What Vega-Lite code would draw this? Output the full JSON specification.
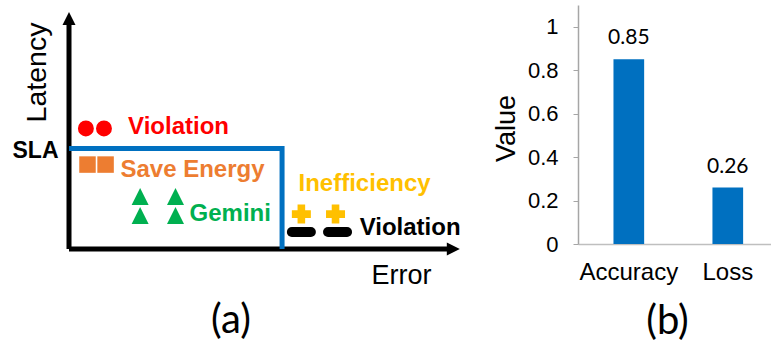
{
  "$schema": "https://vega.github.io/schema/vega-lite/v6.json",
  "background": "white",
  "padding": {"left": 12, "top": 5, "right": 0, "bottom": 0},
  "spacing": 21,
  "config": {
    "view": {"stroke": null},
    "font": "Liberation Sans",
    "axis": {"labelColor": "#000000", "titleColor": "#000000", "grid": false}
  },
  "hconcat": [
    {
      "width": 402,
      "height": 244,
      "title": {"text": "(a)", "orient": "bottom", "anchor": "middle", "font": "Lato", "fontSize": 40, "fontWeight": "normal", "color": "#000000", "offset": 13, "dx": -39},
      "layer": [
        {
          "data": {"values": [
            {"axis": "Error", "x": 0, "y": 0, "x_end": 95.6, "y_end": 0},
            {"axis": "Latency", "x": 0, "y": 0, "x_end": 0, "y_end": 94.5}
          ]},
          "mark": {"type": "rule", "color": "#000000", "strokeWidth": 5},
          "encoding": {
            "x": {"field": "x", "type": "quantitative", "scale": {"domain": [0, 100], "nice": false, "zero": false},
              "axis": {"values": [], "labels": false, "domain": false, "ticks": false, "tickSize": 0, "title": "Error", "titleFont": "Liberation Sans", "titleFontSize": 27, "titleFontWeight": "normal", "titleX": 332, "titleY": 26, "titleAlign": "center", "titleBaseline": "middle"}},
            "y": {"field": "y", "type": "quantitative", "scale": {"domain": [0, 100], "nice": false, "zero": false},
              "axis": {"values": [41.2], "labelExpr": "'SLA'", "labelFont": "Liberation Sans", "labelFontSize": 23, "labelFontWeight": "bold", "labelPadding": 11, "labelOffset": 2, "domain": false, "ticks": false, "tickSize": 0, "title": "Latency", "titleFont": "Liberation Sans", "titleFontSize": 28.5, "titleFontWeight": "normal", "titleX": -33, "titleY": 67, "titleAngle": 270, "titleAlign": "center", "titleBaseline": "middle"}},
            "x2": {"field": "x_end"},
            "y2": {"field": "y_end"}
          }
        },
        {
          "data": {"values": [{"axis": "Error", "x": 95.6, "y": 0}]},
          "mark": {"type": "point", "shape": "M-1,-1L1,0L-1,1Z", "filled": true, "opacity": 1, "size": 169, "color": "#000000"},
          "encoding": {"x": {"field": "x", "type": "quantitative"}, "y": {"field": "y", "type": "quantitative"}}
        },
        {
          "data": {"values": [{"axis": "Latency", "x": 0, "y": 94.5}]},
          "mark": {"type": "point", "shape": "M-1,1L0,-1L1,1Z", "filled": true, "opacity": 1, "size": 169, "color": "#000000"},
          "encoding": {"x": {"field": "x", "type": "quantitative"}, "y": {"field": "y", "type": "quantitative"}}
        },
        {
          "data": {"values": [
            {"step": 1, "x": 0, "y": 41.2},
            {"step": 2, "x": 53.0, "y": 41.2},
            {"step": 3, "x": 53.0, "y": 0}
          ]},
          "mark": {"type": "line", "color": "#0070C0", "strokeWidth": 5, "strokeJoin": "miter"},
          "encoding": {"x": {"field": "x", "type": "quantitative"}, "y": {"field": "y", "type": "quantitative"}, "order": {"field": "step"}}
        },
        {
          "data": {"values": [
            {"outcome": "Latency violation", "x": 4.2, "y": 49.4},
            {"outcome": "Latency violation", "x": 8.7, "y": 49.4}
          ]},
          "mark": {"type": "point", "shape": "circle", "filled": true, "opacity": 1, "size": 254},
          "encoding": {"x": {"field": "x", "type": "quantitative"}, "y": {"field": "y", "type": "quantitative"},
            "color": {"field": "outcome", "type": "nominal", "legend": null, "scale": {"domain": ["Latency violation", "Save energy", "Gemini", "Inefficiency", "Error violation"], "range": ["#FF0000", "#ED7D31", "#00B050", "#FFC000", "#000000"]}}}
        },
        {
          "data": {"values": [
            {"outcome": "Save energy", "x": 4.6, "y": 34.6},
            {"outcome": "Save energy", "x": 9.1, "y": 34.6}
          ]},
          "mark": {"type": "point", "shape": "square", "filled": true, "opacity": 1, "size": 272},
          "encoding": {"x": {"field": "x", "type": "quantitative"}, "y": {"field": "y", "type": "quantitative"},
            "color": {"field": "outcome", "type": "nominal", "legend": null}}
        },
        {
          "data": {"values": [
            {"outcome": "Gemini", "x": 17.7, "y": 21.5},
            {"outcome": "Gemini", "x": 17.7, "y": 13.7},
            {"outcome": "Gemini", "x": 26.5, "y": 21.5},
            {"outcome": "Gemini", "x": 26.5, "y": 13.7}
          ]},
          "mark": {"type": "point", "shape": "M0,-1L1,1L-1,1Z", "filled": true, "opacity": 1, "size": 289},
          "encoding": {"x": {"field": "x", "type": "quantitative"}, "y": {"field": "y", "type": "quantitative"},
            "color": {"field": "outcome", "type": "nominal", "legend": null}}
        },
        {
          "data": {"values": [
            {"outcome": "Inefficiency", "x": 57.8, "y": 14.3},
            {"outcome": "Inefficiency", "x": 66.3, "y": 14.3}
          ]},
          "mark": {"type": "point", "shape": "cross", "filled": true, "opacity": 1, "size": 361},
          "encoding": {"x": {"field": "x", "type": "quantitative"}, "y": {"field": "y", "type": "quantitative"},
            "color": {"field": "outcome", "type": "nominal", "legend": null}}
        },
        {
          "data": {"values": [
            {"outcome": "Error violation", "x": 57.8, "y": 7.0},
            {"outcome": "Error violation", "x": 66.8, "y": 7.0}
          ]},
          "mark": {"type": "point", "shape": "stroke", "filled": false, "opacity": 1, "size": 361, "strokeWidth": 10, "strokeCap": "round"},
          "encoding": {"x": {"field": "x", "type": "quantitative"}, "y": {"field": "y", "type": "quantitative"},
            "color": {"field": "outcome", "type": "nominal", "legend": null}}
        },
        {
          "data": {"values": [
            {"outcome": "Latency violation", "label": "Violation", "x": 14.7, "y": 50.2},
            {"outcome": "Save energy", "label": "Save Energy", "x": 12.8, "y": 32.3},
            {"outcome": "Gemini", "label": "Gemini", "x": 30.0, "y": 14.2},
            {"outcome": "Inefficiency", "label": "Inefficiency", "x": 57.1, "y": 26.7},
            {"outcome": "Error violation", "label": "Violation", "x": 72.3, "y": 8.5}
          ]},
          "mark": {"type": "text", "align": "left", "baseline": "middle", "font": "Liberation Sans", "fontSize": 24, "fontWeight": "bold"},
          "encoding": {"x": {"field": "x", "type": "quantitative"}, "y": {"field": "y", "type": "quantitative"},
            "text": {"field": "label"},
            "color": {"field": "outcome", "type": "nominal", "legend": null}}
        }
      ],
      "resolve": {"scale": {"color": "shared"}}
    },
    {
      "width": 193,
      "height": 239,
      "title": {"text": "(b)", "orient": "bottom", "anchor": "middle", "font": "Lato", "fontSize": 40, "fontWeight": "normal", "color": "#000000", "offset": 18, "dx": -7},
      "data": {"values": [
        {"metric": "Accuracy", "value": 0.85},
        {"metric": "Loss", "value": 0.26}
      ]},
      "encoding": {
        "x": {"field": "metric", "type": "nominal", "sort": null,
          "scale": {"paddingInner": 0.69, "paddingOuter": 0.32, "align": 0.56},
          "axis": {"title": null, "labelAngle": 0, "labelFont": "Liberation Sans", "labelFontSize": 24, "labelPadding": 16, "ticks": false, "tickSize": 0, "domainColor": "#BFBFBF", "domainWidth": 1.5}},
        "y": {"field": "value", "type": "quantitative",
          "scale": {"domain": [0, 1.1], "nice": false},
          "axis": {"values": [0, 0.2, 0.4, 0.6, 0.8, 1], "format": ".1~f", "labelFont": "Liberation Sans", "labelFontSize": 22, "labelPadding": 15, "tickSize": 5, "tickColor": "#A6A6A6", "domainColor": "#A6A6A6", "domainWidth": 1.5, "title": "Value", "titleFont": "Liberation Sans", "titleFontSize": 27, "titleFontWeight": "normal", "titleX": -72, "titleY": 123, "titleAngle": 270, "titleAlign": "center", "titleBaseline": "middle"}}
      },
      "layer": [
        {"mark": {"type": "bar", "color": "#0070C0"}},
        {"mark": {"type": "text", "dy": -21, "baseline": "middle", "font": "Lato", "fontSize": 21, "color": "#000000"},
          "encoding": {"text": {"field": "value", "type": "quantitative", "format": ".2f"}}}
      ]
    }
  ]
}
